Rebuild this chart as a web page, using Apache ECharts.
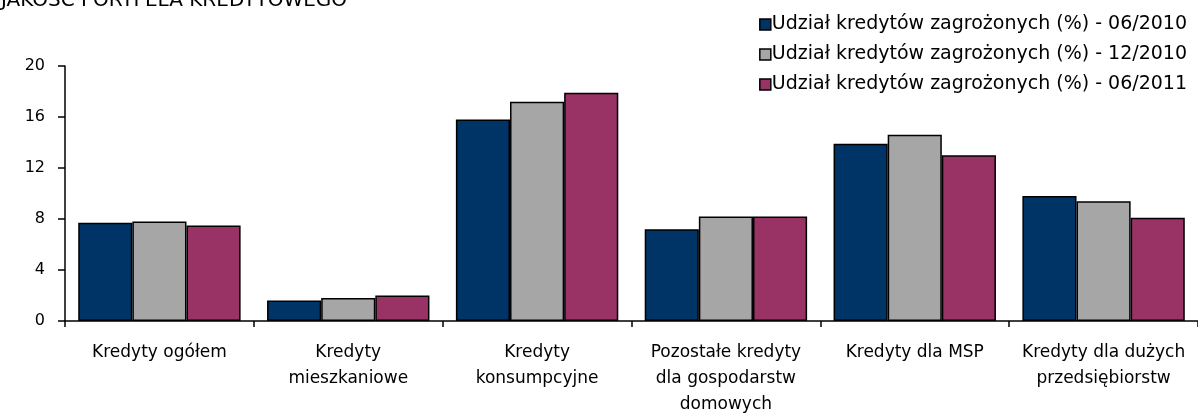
<!DOCTYPE html>
<html lang="pl">
<head>
    <meta charset="UTF-8">
    <title></title>
    <style>
        * {
            margin: 0;
            padding: 0;
        }

        html, body {
            width: 1198px;
            height: 414px;
            background: #ffffff;
            overflow: hidden;
        }
    </style>
    <script type="text/javascript" src="https://cdn.jsdelivr.net/npm/echarts@6/dist/echarts.min.js"></script>
</head>
<body>
<div id="chart" style="width: 1198px; height: 414px;"></div>
<script type="text/javascript">
    var categories = [
        'Kredyty ogółem',
        'Kredyty\nmieszkaniowe',
        'Kredyty\nkonsumpcyjne',
        'Pozostałe kredyty\ndla gospodarstw\ndomowych',
        'Kredyty dla MSP',
        'Kredyty dla dużych\nprzedsiębiorstw'
    ]
    var seriesNames = [
        'Udział kredytów zagrożonych (%) - 06/2010',
        'Udział kredytów zagrożonych (%) - 12/2010',
        'Udział kredytów zagrożonych (%) - 06/2011'
    ]
    var jun2010 = [7.7, 1.6, 15.8, 7.2, 13.9, 9.8]
    var dec2010 = [7.8, 1.8, 17.2, 8.2, 14.6, 9.4]
    var jun2011 = [7.5, 2.0, 17.9, 8.2, 13.0, 8.1]
    var colors = ['#003366', '#a6a6a6', '#993366']

    var font = 'DejaVu Sans'
    var chart = echarts.init(document.getElementById('chart'))

    var series = [jun2010, dec2010, jun2011].map(function (values, i) {
        return {
            name: seriesNames[i],
            type: 'bar',
            data: values,
            barGap: '0%',
            barCategoryGap: '14%',
            itemStyle: {
                color: colors[i],
                borderColor: '#000000',
                borderWidth: 1.5
            }
        }
    })

    chart.setOption({
        animation: false,
        title: {
            text: 'JAKOŚĆ PORTFELA KREDYTOWEGO',
            left: -4,
            top: -14,
            textStyle: {
                fontFamily: font,
                fontSize: 20,
                fontWeight: 'normal',
                color: '#000000'
            }
        },
        legend: {
            orient: 'vertical',
            right: 6,
            top: 10,
            itemWidth: 11,
            itemHeight: 11,
            itemGap: 11,
            icon: 'rect',
            itemStyle: {
                borderColor: '#000000',
                borderWidth: 1.5
            },
            textStyle: {
                fontFamily: font,
                fontSize: 19,
                color: '#000000',
                padding: [0, 0, 0, -4]
            }
        },
        grid: {
            left: 65,
            right: 0,
            top: 66,
            bottom: 93,
            containLabel: false,
            outerBoundsMode: 'none'
        },
        xAxis: {
            type: 'category',
            data: categories,
            axisLine: {lineStyle: {color: '#000000', width: 1.5}},
            axisTick: {show: true, length: 6, lineStyle: {color: '#000000', width: 1.5}},
            axisLabel: {
                fontFamily: font,
                fontSize: 17,
                color: '#000000',
                lineHeight: 26,
                margin: 19,
                interval: 0
            }
        },
        yAxis: {
            type: 'value',
            min: 0,
            max: 20,
            interval: 4,
            splitLine: {show: false},
            axisLine: {show: true, lineStyle: {color: '#000000', width: 1.5}},
            axisTick: {show: true, length: 7, lineStyle: {color: '#000000', width: 1.5}},
            axisLabel: {
                fontFamily: font,
                fontSize: 16,
                color: '#000000',
                margin: 20
            }
        },
        series: series
    })
</script>
</body>
</html>
